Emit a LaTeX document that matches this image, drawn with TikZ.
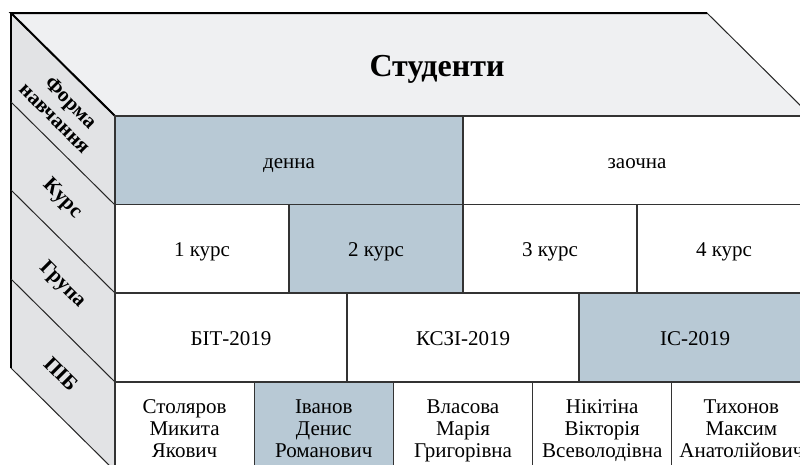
\documentclass[tikz,border=0pt]{standalone}
\usepackage{fontspec}
\setmainfont{Liberation Serif}
\newcommand{\threelines}[3]{\rule{0pt}{23.6pt}#1\\#2\\#3\rule[-6.6pt]{0pt}{6.6pt}}
\begin{document}
\begin{tikzpicture}[x=1pt,y=-1pt,
  cellbase/.style={draw=black!80, line width=1.1pt, fill=white, inner sep=0pt, outer sep=0pt,
    minimum height=89pt},
  cell/.style={cellbase, font=\fontsize{21}{22}\selectfont, text height=15pt, text depth=0pt},
  namecell/.style={cellbase, align=center, font=\fontsize{21}{22}\selectfont, minimum width=139.2pt},
  hl/.style={fill=hlblue},
  sidelab/.style={rotate=-45, align=center, font=\bfseries\fontsize{21}{22.5}\selectfont},
  face/.style={draw=black!85, line width=1pt}
]
\definecolor{hlblue}{HTML}{B8C9D5}
\definecolor{topgray}{HTML}{EFF0F2}
\definecolor{sidegray}{HTML}{E2E3E5}
\useasboundingbox (0,0) rectangle (800,464);
\clip (0,0) rectangle (800,464);
\fill[white] (0,0) rectangle (800,464);
% faces
\coordinate (tl) at (11,13);
\coordinate (tr) at (707,13);
\coordinate (fr) at (811,116);
\coordinate (fl) at (115,116);
\coordinate (bl) at (11,368);
\coordinate (fb) at (115,471);
\filldraw[face, fill=topgray] (tl) -- (tr) -- (fr) -- (fl) -- cycle;
\filldraw[face, fill=sidegray] (tl) -- (fl) -- (fb) -- (bl) -- cycle;
\draw[black, line width=2pt] (fl) -- (tl) -- (tr);
\draw[black, line width=1.6pt] (tl) -- (bl);
\draw[face] (11,102) -- (115,205);
\draw[face] (11,190) -- (115,293);
\draw[face] (11,279) -- (115,382);
\node[font=\bfseries\fontsize{32}{32}\selectfont] (title) at (437,69) {Студенти};
\node[sidelab] (l1) at (63,110) {Форма\\навчання};
\node[sidelab] (l2) at (62,199) {Курс};
\node[sidelab] (l3) at (62,285) {Група};
\node[sidelab] (l4) at (61,374) {ПІБ};
% row 1
\node[cell, hl, minimum width=348pt] (denna) at (289,160.5) {денна};
\node[cell, minimum width=348pt] (zaochna) at (637,160.5) {заочна};
% row 2
\node[cell, minimum width=174pt] (k1) at (202,249) {1 курс};
\node[cell, hl, minimum width=174pt] (k2) at (376,249) {2 курс};
\node[cell, minimum width=174pt] (k3) at (550,249) {3 курс};
\node[cell, minimum width=174pt] (k4) at (724,249) {4 курс};
% row 3
\node[cell, minimum width=232pt] (g1) at (231,337.5) {БІТ-2019};
\node[cell, minimum width=232pt] (g2) at (463,337.5) {КСЗІ-2019};
\node[cell, hl, minimum width=232pt] (g3) at (695,337.5) {ІС-2019};
% row 4
\node[namecell] (p1) at (184.6,426.5) {\threelines{Столяров}{Микита}{Якович}};
\node[namecell, hl] (p2) at (323.8,426.5) {\threelines{Іванов}{Денис}{Романович}};
\node[namecell] (p3) at (463,426.5) {\threelines{Власова}{Марія}{Григорівна}};
\node[namecell] (p4) at (602.2,426.5) {\threelines{Нікітіна}{Вікторія}{Всеволодівна}};
\node[namecell] (p5) at (741.4,426.5) {\threelines{Тихонов}{Максим}{Анатолійович}};
\end{tikzpicture}
\end{document}
